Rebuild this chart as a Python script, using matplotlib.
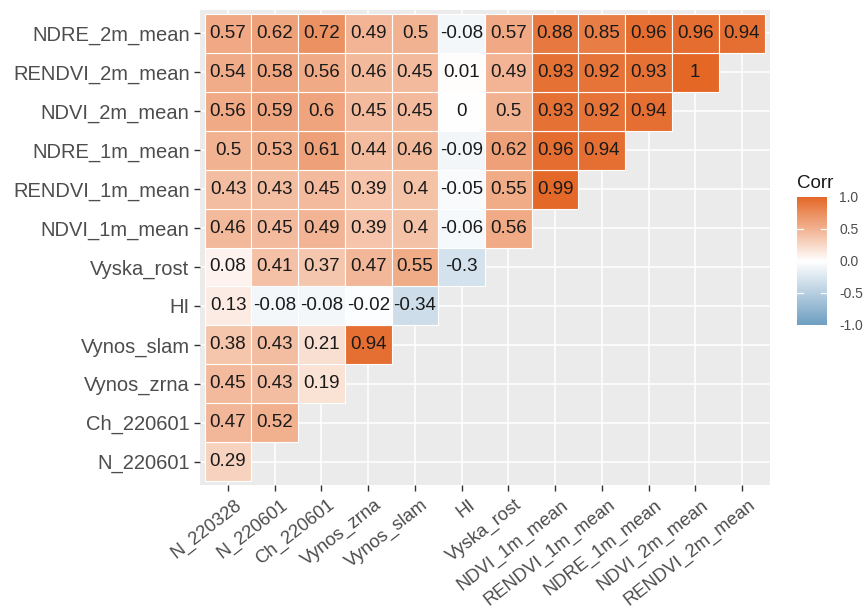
import numpy as np
import matplotlib
matplotlib.use("Agg")
import matplotlib.pyplot as plt
from matplotlib.colors import LinearSegmentedColormap, Normalize
from matplotlib.colorbar import ColorbarBase
from matplotlib.transforms import ScaledTranslation

plt.rcParams["font.family"] = ["Liberation Sans", "DejaVu Sans"]

# Column variables (left to right)
x_labels = ["N_220328", "N_220601", "Ch_220601", "Vynos_zrna", "Vynos_slam", "HI",
            "Vyska_rost", "NDVI_1m_mean", "RENDVI_1m_mean", "NDRE_1m_mean",
            "NDVI_2m_mean", "RENDVI_2m_mean"]
# Row variables (bottom to top)
y_labels = ["N_220601", "Ch_220601", "Vynos_zrna", "Vynos_slam", "HI", "Vyska_rost",
            "NDVI_1m_mean", "RENDVI_1m_mean", "NDRE_1m_mean", "NDVI_2m_mean",
            "RENDVI_2m_mean", "NDRE_2m_mean"]

# Lower-triangle correlations, one list per row (bottom to top)
r_N_220601 = [0.29]
r_Ch_220601 = [0.47, 0.52]
r_Vynos_zrna = [0.45, 0.43, 0.19]
r_Vynos_slam = [0.38, 0.43, 0.21, 0.94]
r_HI = [0.13, -0.08, -0.08, -0.02, -0.34]
r_Vyska_rost = [0.08, 0.41, 0.37, 0.47, 0.55, -0.3]
r_NDVI_1m = [0.46, 0.45, 0.49, 0.39, 0.4, -0.06, 0.56]
r_RENDVI_1m = [0.43, 0.43, 0.45, 0.39, 0.4, -0.05, 0.55, 0.99]
r_NDRE_1m = [0.5, 0.53, 0.61, 0.44, 0.46, -0.09, 0.62, 0.96, 0.94]
r_NDVI_2m = [0.56, 0.59, 0.6, 0.45, 0.45, 0, 0.5, 0.93, 0.92, 0.94]
r_RENDVI_2m = [0.54, 0.58, 0.56, 0.46, 0.45, 0.01, 0.49, 0.93, 0.92, 0.93, 1]
r_NDRE_2m = [0.57, 0.62, 0.72, 0.49, 0.5, -0.08, 0.57, 0.88, 0.85, 0.96, 0.96, 0.94]

rows = [r_N_220601, r_Ch_220601, r_Vynos_zrna, r_Vynos_slam, r_HI, r_Vyska_rost,
        r_NDVI_1m, r_RENDVI_1m, r_NDRE_1m, r_NDVI_2m, r_RENDVI_2m, r_NDRE_2m]

n = len(x_labels)
cmap = LinearSegmentedColormap.from_list("corr", ["#6D9EC1", "#FFFFFF", "#E46726"])
norm = Normalize(-1, 1)

W, H = 866, 611
fig = plt.figure(figsize=(W / 100, H / 100), dpi=100)
ax = fig.add_axes([200 / W, 1 - 485 / H, 570 / W, 475 / H])
ax.set_facecolor("#EBEBEB")

# One row of tiles per variable
for i, r in enumerate(rows):
    vals = np.asarray(r, dtype=float)
    ax.bar(np.arange(len(vals)), 1.0, bottom=i - 0.5, width=1.0,
           color=cmap(norm(vals)), edgecolor="white", linewidth=0.8, zorder=2)
    for j, v in enumerate(vals):
        ax.text(j, i, f"{v:g}", ha="center", va="center", fontsize=13.5,
                color="#1A1A1A", zorder=3)

ax.set_xlim(-0.6, n - 0.4)
ax.set_ylim(-0.6, n - 0.4)
ax.set_xticks(range(n))
ax.set_yticks(range(n))
ax.set_xticklabels(x_labels, rotation=38, ha="right", va="top",
                   rotation_mode="anchor", fontsize=13.2)
ax.set_yticklabels(y_labels, fontsize=14.5)
ax.tick_params(axis="both", length=4.5, width=1, color="#333333",
               labelcolor="#4D4D4D", pad=3)
shift = ScaledTranslation(6 / 100, -1 / 100, fig.dpi_scale_trans)
for lbl in ax.get_xticklabels():
    lbl.set_transform(lbl.get_transform() + shift)
ax.grid(True, color="white", linewidth=1.1, zorder=1)
ax.set_axisbelow(True)
for s in ax.spines.values():
    s.set_visible(False)

# Colour legend
cax = fig.add_axes([797 / W, 1 - 325 / H, 30 / W, 128 / H])
cb = ColorbarBase(cax, cmap=cmap, norm=norm, orientation="vertical",
                  ticks=[-1, -0.5, 0, 0.5, 1])
cb.outline.set_visible(False)
cb.ax.set_yticklabels(["-1.0", "-0.5", "0.0", "0.5", "1.0"])
cb.ax.tick_params(length=0, labelsize=10, labelcolor="#4D4D4D", pad=9)
for t in [-0.5, 0, 0.5]:
    cax.plot([0, 0.2], [t, t], color="white", linewidth=0.9,
             transform=cax.get_yaxis_transform())
    cax.plot([0.8, 1], [t, t], color="white", linewidth=0.9,
             transform=cax.get_yaxis_transform())
fig.text(797 / W, 1 - 188 / H, "Corr", fontsize=13.5, color="#1A1A1A",
         ha="left", va="baseline")

fig.savefig("out.png", dpi=100, facecolor="white")
